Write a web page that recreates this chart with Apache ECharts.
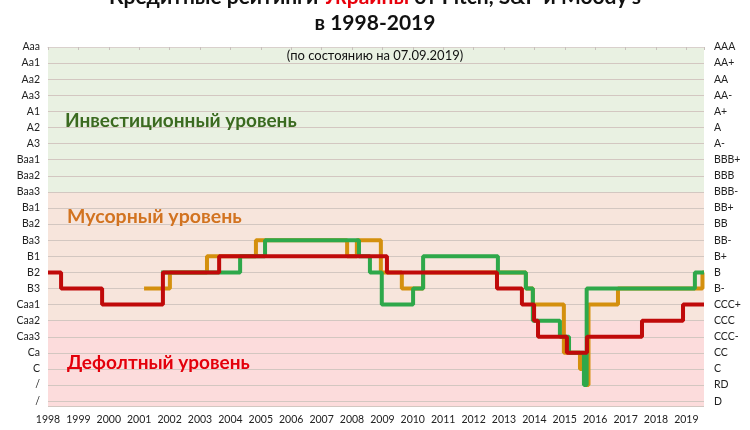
<!DOCTYPE html>
<html>
<head>
<meta charset="utf-8">
<script src="https://cdn.jsdelivr.net/npm/echarts@6/dist/echarts.min.js"></script>
<style>
  html, body { margin: 0; padding: 0; background: #fff; }
  #chart { width: 750px; height: 430px; }
</style>
</head>
<body>
<div id="chart"></div>
<script>
// шкалы рейтингов (0 = высший)
const moodysLabels = ['Aaa', 'Aa1', 'Aa2', 'Aa3', 'A1', 'A2', 'A3', 'Baa1', 'Baa2', 'Baa3', 'Ba1', 'Ba2', 'Ba3', 'B1', 'B2', 'B3', 'Caa1', 'Caa2', 'Caa3', 'Ca', 'C', '/', '/']
const spLabels = ['AAA', 'AA+', 'AA', 'AA-', 'A+', 'A', 'A-', 'BBB+', 'BBB', 'BBB-', 'BB+', 'BB', 'BB-', 'B+', 'B', 'B-', 'CCC+', 'CCC', 'CCC-', 'CC', 'C', 'RD', 'D']

// Moody's (красная)
const moodysDates = [1998.0, 1998.43, 1999.78, 2001.78, 2003.63, 2009.15, 2012.77, 2013.59, 2013.99, 2014.12, 2015.07, 2015.73, 2017.54, 2018.89, 2019.58]
const moodysLevels = [14, 15, 16, 14, 13, 14, 15, 16, 17, 18, 19, 18, 17, 16, 16]

// S&P (зелёная)
const spDates = [2001.72, 2004.32, 2005.14, 2008.23, 2008.59, 2008.98, 2010.01, 2010.34, 2012.80, 2013.72, 2013.95, 2014.84, 2015.14, 2015.63, 2015.72, 2019.28, 2019.58]
const spLevels = [14, 13, 12, 13, 14, 16, 15, 13, 14, 15, 17, 18, 19, 21, 15, 14, 14]

// Fitch (оранжевая)
const fitchDates = [2001.16, 2002.01, 2003.23, 2004.84, 2007.84, 2008.16, 2008.95, 2009.64, 2010.34, 2013.72, 2013.95, 2014.97, 2015.50, 2015.68, 2015.78, 2016.75, 2019.53, 2019.58]
const fitchLevels = [15, 14, 13, 12, 13, 12, 14, 15, 14, 15, 16, 19, 20, 21, 16, 15, 14, 14]

// границы зон
const investZone = [0, 9]
const junkZone = [9, 17]
const defaultZone = [17, 22.3]

const toPairs = (dates, levels) => dates.map((d, i) => [d, levels[i]])

const chart = echarts.init(document.getElementById('chart'))
const font = 'Lato, "Open Sans", sans-serif'

const yAxisBase = {
  type: 'value',
  min: 0,
  max: 22.3,
  interval: 1,
  inverse: true,
  z: 2,
  axisLine: { show: false },
  axisTick: { show: false },
  splitLine: { show: false },
}

const option = {
  animation: false,
  backgroundColor: '#fff',
  textStyle: { fontFamily: font },
  title: {
    left: 'center',
    top: -21,
    text: '{a|Кредитные рейтинги }{r|Украины}{a| от Fitch, S&P и Moody\'s}\n{a|в 1998-2019}',
    textStyle: {
      rich: {
        a: { fontSize: 21, fontWeight: 'bold', color: '#111', lineHeight: 26, fontFamily: font },
        r: { fontSize: 21, fontWeight: 'bold', color: '#e8000b', lineHeight: 26, fontFamily: font },
      }
    }
  },
  grid: {
    left: 48,
    right: 46,
    top: 47,
    bottom: 24,
  },
  xAxis: {
    type: 'value',
    min: 1998,
    max: 2019.58,
    interval: 1,
    z: 2,
    axisLine: { show: true, lineStyle: { color: '#d9d0cc' } },
    axisTick: { show: true, length: 3, lineStyle: { color: '#c8c0bc' } },
    splitLine: { show: false },
    axisLabel: {
      color: '#222',
      fontSize: 10.5,
      margin: 8,
      formatter: (v) => (Number.isInteger(v) ? String(v) : ''),
    },
  },
  yAxis: [
    Object.assign({}, yAxisBase, {
      position: 'left',
      splitLine: { show: true, lineStyle: { color: '#d3c7c1', width: 1 } },
      axisLabel: {
        color: '#222',
        fontSize: 10.5,
        margin: 8,
        formatter: (v) => (Number.isInteger(v) ? moodysLabels[v] : ''),
      },
    }),
    Object.assign({}, yAxisBase, {
      position: 'right',
      axisLabel: {
        color: '#222',
        fontSize: 10.5,
        margin: 10,
        align: 'left',
        formatter: (v) => (Number.isInteger(v) ? spLabels[v] : ''),
      },
    }),
  ],
  series: [
    {
      name: 'zones',
      type: 'line',
      data: [],
      silent: true,
      z: 0,
      markArea: {
        silent: true,
        z: 0,
        data: [
          [{ yAxis: investZone[0], itemStyle: { color: '#e9f1e2' } }, { yAxis: investZone[1] }],
          [{ yAxis: junkZone[0], itemStyle: { color: '#f7e5dc' } }, { yAxis: junkZone[1] }],
          [{ yAxis: defaultZone[0], itemStyle: { color: '#fcdcdc' } }, { yAxis: defaultZone[1] }],
        ],
      },
    },
    {
      name: 'Fitch',
      type: 'line',
      step: 'end',
      symbol: 'none',
      data: toPairs(fitchDates, fitchLevels),
      lineStyle: { color: '#d4900e', width: 4 },
      z: 3,
    },
    {
      name: 'S&P',
      type: 'line',
      step: 'end',
      symbol: 'none',
      data: toPairs(spDates, spLevels),
      lineStyle: { color: '#2ea84a', width: 4 },
      z: 4,
    },
    {
      name: "Moody's",
      type: 'line',
      step: 'end',
      symbol: 'none',
      data: toPairs(moodysDates, moodysLevels),
      lineStyle: { color: '#c00a0a', width: 4 },
      z: 5,
    },
  ],
  graphic: [
    {
      type: 'text', left: 'center', top: 49, z: 10,
      style: { text: '(по состоянию на 07.09.2019)', fontSize: 13, fill: '#111', fontFamily: font },
    },
    {
      type: 'text', left: 65, top: 111, z: 10,
      style: { text: 'Инвестиционный уровень', fontSize: 19, fontWeight: 'bold', fill: '#3b6a20', fontFamily: font },
    },
    {
      type: 'text', left: 67, top: 207, z: 10,
      style: { text: 'Мусорный уровень', fontSize: 19.5, fontWeight: 'bold', fill: '#d27320', fontFamily: font },
    },
    {
      type: 'text', left: 67, top: 353, z: 10,
      style: { text: 'Дефолтный уровень', fontSize: 19, fontWeight: 'bold', fill: '#e3000b', fontFamily: font },
    },
  ],
}

chart.setOption(option)
</script>
</body>
</html>
